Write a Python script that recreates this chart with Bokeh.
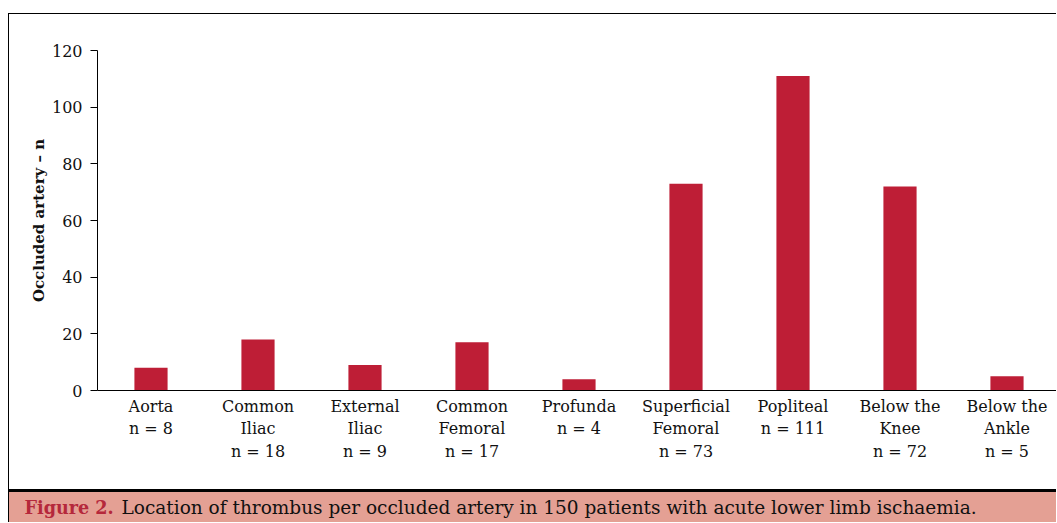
from bokeh.plotting import figure
from bokeh.models import Range1d, FixedTicker, InlineStyleSheet, ColumnDataSource
from bokeh.core.properties import value
from bokeh.embed import file_html
from bokeh.resources import INLINE

# ---- data ----
arteries = ["Aorta", "Common\nIliac", "External\nIliac", "Common\nFemoral", "Profunda",
            "Superficial\nFemoral", "Popliteal", "Below the\nKnee", "Below the\nAnkle"]
counts = [8, 18, 9, 17, 4, 73, 111, 72, 5]
y_ticks = [0, 20, 40, 60, 80, 100, 120]
y_title = "Occluded artery – n"
caption_label = "Figure 2."
caption_text = "Location of thrombus per occluded artery in 150 patients with acute lower limb ischaemia."

pos = list(range(len(arteries)))
tick_labels = {i: f"{a}\nn = {c}" for i, (a, c) in enumerate(zip(arteries, counts))}

FONT = "DejaVu Serif"
BAR = "#BE1E36"
PINK = "#E4A094"
W = 1048          # canvas width
H = 509           # canvas height
OX, OY = 9, 14    # canvas origin on the page
AX_X, AX_Y = 97, 390   # page position of the axes corner
Y_TOP_PX = 50          # page position of y = 120
CAT_PX = 107
Y_MAX = 120
PXU = (AX_Y - Y_TOP_PX) / Y_MAX


def xpx(px):
    """page pixel -> x data"""
    return -0.5 + (px - AX_X) / CAT_PX


def ypx(py):
    """page pixel -> y data"""
    return (AX_Y - py) / PXU


css = f"""
:host {{
  border-top: 1px solid #000;
  border-left: 1px solid #000;
  background: linear-gradient(to bottom, #ffffff 0px, #ffffff 475px, #000000 475px,
                              #000000 478px, {PINK} 478px, {PINK} 100%);
}}
"""

src = ColumnDataSource(dict(x=pos, top=counts))

x_end = xpx(OX + W)
p = figure(width=W, height=H, output_backend="svg", toolbar_location=None, tools="",
           x_range=Range1d(xpx(OX), x_end), y_range=Range1d(ypx(OY + H), ypx(OY)),
           min_border=0, background_fill_color=None, border_fill_color=None)
p.outline_line_color = None
p.grid.visible = False
p.margin = (13, 0, 0, 8)
p.stylesheets = [InlineStyleSheet(css=css)]

p.vbar(x="x", top="top", width=0.31, source=src, fill_color=BAR, line_color=None)

xa = p.xaxis[0]
xa.fixed_location = 0
xa.bounds = (-0.5, x_end)
xa.ticker = FixedTicker(ticks=pos)
xa.major_label_overrides = tick_labels
xa.major_tick_line_color = None
xa.minor_tick_line_color = None
xa.axis_line_color = "black"
xa.major_label_text_font = FONT
xa.major_label_text_font_size = "16px"
xa.major_label_text_color = "#111111"
xa.major_label_standoff = 0

ya = p.yaxis[0]
ya.fixed_location = -0.5
ya.bounds = (0, Y_MAX)
ya.ticker = FixedTicker(ticks=y_ticks)
ya.major_tick_out = 7
ya.major_tick_in = 0
ya.minor_tick_line_color = None
ya.axis_line_color = "black"
ya.major_label_text_font = FONT
ya.major_label_text_font_size = "16px"
ya.major_label_text_color = "#111111"
ya.major_label_standoff = 8
ya.axis_label = y_title
ya.axis_label_text_font = FONT
ya.axis_label_text_font_style = "bold"
ya.axis_label_text_font_size = "15px"
ya.axis_label_text_color = "#111111"
ya.axis_label_standoff = 1

p.text(x=[xpx(24)], y=[ypx(507)], text=[caption_label], text_font=value(FONT),
       text_font_style="bold", text_font_size="17.6px", text_color="#B5283B",
       text_baseline="alphabetic")
p.text(x=[xpx(121)], y=[ypx(507)], text=[caption_text], text_font=value(FONT),
       text_font_size="18.5px", text_color="#111111", text_baseline="alphabetic")

open("out.html", "w").write(file_html(p, INLINE))
